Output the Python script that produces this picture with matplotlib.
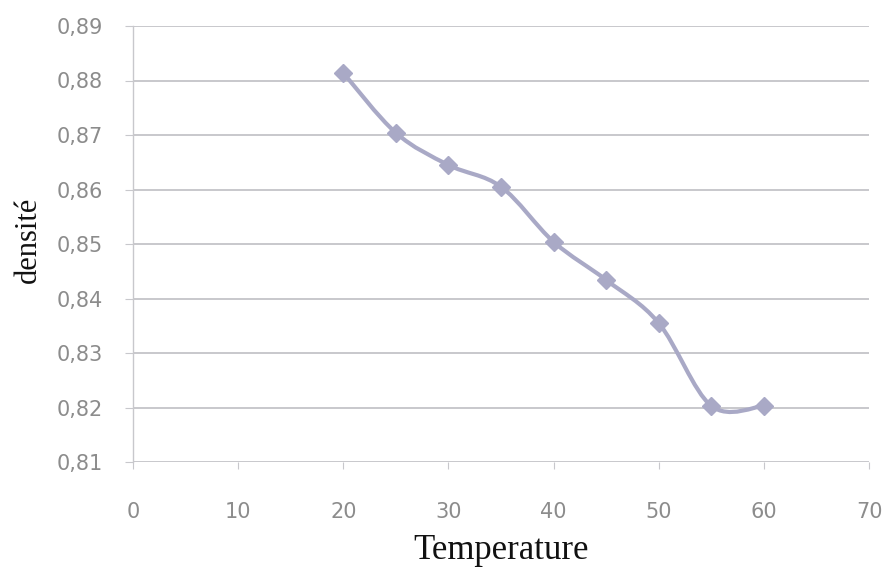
import numpy as np
import matplotlib
matplotlib.use("Agg")
import matplotlib.pyplot as plt
from matplotlib.path import Path
from matplotlib.patches import PathPatch
from matplotlib.ticker import FuncFormatter

# données
temperature = [20, 25, 30, 35, 40, 45, 50, 55, 60]
densite = [0.8814, 0.8704, 0.8645, 0.8605, 0.8504, 0.8434, 0.8355, 0.8203, 0.8203]
x_ticks = [0, 10, 20, 30, 40, 50, 60, 70]
y_ticks = [0.81, 0.82, 0.83, 0.84, 0.85, 0.86, 0.87, 0.88, 0.89]

line_color = "#a9a9c6"


def smooth_path(x, y, t=1 / 6):
    """courbe lissée type Excel (Catmull-Rom -> Bezier)"""
    x = np.asarray(x, float)
    y = np.asarray(y, float)
    verts = [(x[0], y[0])]
    codes = [Path.MOVETO]
    n = len(x)
    for i in range(n - 1):
        x0, y0 = (x[i - 1], y[i - 1]) if i > 0 else (x[i], y[i])
        x3, y3 = (x[i + 2], y[i + 2]) if i + 2 < n else (x[i + 1], y[i + 1])
        c1 = (x[i] + (x[i + 1] - x0) * t, y[i] + (y[i + 1] - y0) * t)
        c2 = (x[i + 1] - (x3 - x[i]) * t, y[i + 1] - (y3 - y[i]) * t)
        verts += [c1, c2, (x[i + 1], y[i + 1])]
        codes += [Path.CURVE4] * 3
    return Path(verts, codes)


fig = plt.figure(figsize=(8.9, 5.71), dpi=100)
ax = fig.add_axes([133 / 890, 1 - 462 / 571, (869 - 133) / 890, (462 - 26) / 571])

ax.set_xlim(0, 70)
ax.set_ylim(0.81, 0.89)
ax.set_xticks(x_ticks)
ax.set_yticks(y_ticks)
ax.yaxis.set_major_formatter(FuncFormatter(lambda v, p: f"{v:.2f}".replace(".", ",")))

ax.grid(axis="y", color="#c4c4c8", linewidth=1.3)
ax.set_axisbelow(True)
for s in ["top", "right", "bottom"]:
    ax.spines[s].set_visible(False)
ax.spines["left"].set_color("#c8c8cc")
ax.spines["left"].set_linewidth(1.0)

ax.tick_params(axis="y", length=5.5, color="#c8c8cc", direction="out", pad=16,
               labelsize=15, labelcolor="#8c8c8c")
ax.tick_params(axis="x", length=5, color="#c8c8cc", direction="out", pad=24,
               labelsize=15, labelcolor="#8c8c8c")

ax.add_patch(PathPatch(smooth_path(temperature, densite), facecolor="none",
                       edgecolor=line_color, linewidth=3, zorder=3))
ax.plot(temperature, densite, linestyle="none", marker="D", markersize=9,
        color=line_color, zorder=4)

ax.set_xlabel("Temperature", family=["Liberation Serif", "DejaVu Serif"],
              fontsize=25, color="#111111")
ax.set_ylabel("densité", family=["Liberation Serif", "DejaVu Serif"],
              fontsize=22, color="#111111")
ax.xaxis.set_label_coords(0.5, -0.165)
ax.yaxis.set_label_coords(-0.122, 0.51)

fig.savefig("out.png", dpi=100, facecolor="white")
